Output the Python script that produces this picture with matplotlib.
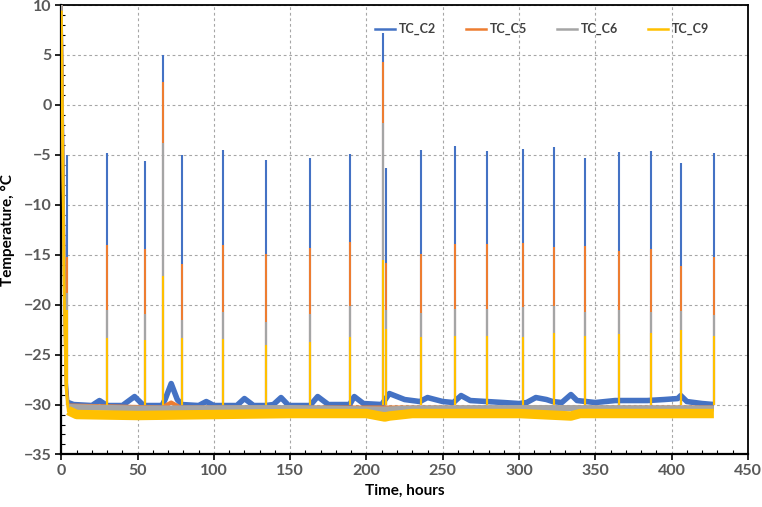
import numpy as np
import matplotlib
matplotlib.use("Agg")
import matplotlib.pyplot as plt
from matplotlib.ticker import MultipleLocator

plt.rcParams['font.family'] = ['Lato', 'DejaVu Sans']

series_names = ["TC_C2", "TC_C5", "TC_C6", "TC_C9"]
colors = ["#4472C4", "#ED7D31", "#A5A5A5", "#FFC000"]

# Defrost spike times (hours) and peak temperatures per sensor
spike_t = [3.9, 29.8, 54.8, 66.6, 79.1, 106.0, 134.1, 162.9, 189.2, 210.8, 212.7,
           235.7, 257.9, 279.0, 302.3, 322.9, 343.2, 365.4, 386.4, 406.1, 427.7]
peak_c2 = [-5.0, -4.8, -5.6, 5.0, -5.0, -4.5, -5.5, -5.3, -4.9, 7.2, -6.3,
           -4.5, -4.1, -4.6, -4.4, -4.2, -5.3, -4.7, -4.6, -5.8, -4.8]
peak_c5 = [-15.2, -14.0, -14.4, 2.3, -15.9, -14.0, -14.9, -14.3, -13.7, 4.3, -15.8,
           -14.9, -13.9, -13.9, -13.8, -14.2, -14.1, -14.6, -14.4, -16.1, -15.2]
peak_c6 = [-18.8, -20.5, -20.9, -3.8, -21.5, -20.7, -21.7, -20.9, -20.1, -1.8, -20.5,
           -20.8, -20.4, -20.4, -20.2, -20.1, -20.7, -20.5, -20.7, -20.6, -21.0]
peak_c9 = [-20.5, -23.3, -23.5, -17.1, -23.3, -23.4, -24.0, -23.7, -23.2, -15.5, -22.4,
           -23.2, -23.1, -23.1, -23.2, -22.8, -23.1, -22.9, -22.8, -22.5, -23.1]

# Initial pull-down at start of test: time, temperature
init_t = [0, 0.8, 1.8, 3.0, 4.5]
init_c2 = [10, 0, -15, -27, -29.8]
init_c5 = [10, -1, -16, -27.5, -30.1]
init_c6 = [10, -2, -17, -28, -30.3]
init_c9 = [9.3, -3, -18, -28.2, -30.6]

# Baseline (between defrosts) readings: time, temperature
base_t_c2 = [4.5, 8, 20, 25, 30, 40, 48, 54, 60, 66, 68, 72, 76, 79, 90, 95, 100,
             106, 115, 120, 126, 134, 139, 144, 149, 163, 168, 175, 189, 192, 198, 210,
             215, 225, 235, 240, 250, 257, 262, 268, 290, 300, 305, 311, 318, 322, 328,
             334, 338, 350, 363, 384, 395, 404, 406, 410, 420, 427.7]
base_v_c2 = [-29.8, -30.0, -30.1, -29.6, -30.1, -30.1, -29.2, -30.1, -30.1,
             -30.1, -29.5, -27.9, -29.5, -30.0, -30.1, -29.7, -30.1, -30.1, -30.1, -29.4,
             -30.1, -30.1, -30.0, -29.3, -30.1, -30.1, -29.2, -30.0, -30.0, -29.2, -29.9,
             -30.0, -28.9, -29.5, -29.7, -29.3, -29.7, -29.8, -29.1, -29.6, -29.8, -29.9,
             -29.8, -29.3, -29.5, -29.7, -29.8, -29.0, -29.6, -29.8, -29.6, -29.6, -29.5,
             -29.4, -29.1, -29.7, -29.9, -30.0]
base_t_c5 = [4.5, 66, 72, 78, 427.7]
base_v_c5 = [-30.1, -30.3, -29.8, -30.3, -30.3]
base_t_c6 = [4.5, 50, 150, 212, 230, 300, 427.7]
base_v_c6 = [-30.25, -30.4, -30.35, -30.5, -30.4, -30.35, -30.4]
base_t_c9 = [4.5, 10, 50, 100, 150, 200, 212, 215, 230, 300, 334, 340, 427.7]
base_v_c9 = [-30.6, -31.0, -31.1, -31.0, -30.9, -30.9, -31.25, -31.15,
             -30.9, -30.9, -31.15, -30.9, -30.9]

x_ticks = [0, 50, 100, 150, 200, 250, 300, 350, 400, 450]
y_ticks = [10, 5, 0, -5, -10, -15, -20, -25, -30, -35]

init_v = [init_c2, init_c5, init_c6, init_c9]
base_t = [base_t_c2, base_t_c5, base_t_c6, base_t_c9]
base_v = [base_v_c2, base_v_c5, base_v_c6, base_v_c9]
peaks = [peak_c2, peak_c5, peak_c6, peak_c9]
band_lw = [4.0, 3.0, 4.3, 6.8]

fig = plt.figure(figsize=(7.62, 5.07), dpi=100)
ax = fig.add_axes([0.0805, 0.1036, 0.901, 0.8865])

for i in range(4):
    ax.plot(init_t, init_v[i], color=colors[i], lw=2.0, zorder=2 + i)
    ax.plot(base_t[i], base_v[i], color=colors[i], lw=band_lw[i], solid_joinstyle='round',
            solid_capstyle='butt', zorder=2 + i, label=series_names[i])
    ax.vlines(spike_t, -30.0, peaks[i], color=colors[i], lw=1.5, zorder=2 + i)

ax.set_xlim(0, 450)
ax.set_ylim(-35, 10)
ax.set_xticks(x_ticks)
ax.set_yticks(y_ticks)
ax.xaxis.set_minor_locator(MultipleLocator(10))
ax.yaxis.set_minor_locator(MultipleLocator(1))
ax.tick_params(which='major', direction='out', length=4, width=1.2, color='black',
               labelsize=11.5, labelcolor='#595959', pad=3)
ax.tick_params(which='minor', direction='in', length=3, width=0.8, color='black')
for lab in ax.get_xticklabels() + ax.get_yticklabels():
    lab.set_fontweight('bold')

ax.grid(True, which='major', color='#a6a6a6', linestyle=(0, (2.5, 2.5)), lw=0.8)
ax.set_axisbelow(True)
for s in ['left', 'bottom']:
    ax.spines[s].set_linewidth(1.6)
for s in ['top', 'right']:
    ax.spines[s].set_linewidth(1.3)

ax.set_xlabel("Time, hours", fontsize=11, fontweight='bold', color='black', labelpad=4)
ax.set_ylabel("Temperature, °C", fontsize=11, fontweight='bold', color='black', labelpad=6)

handles = [plt.Line2D([], [], color=c, lw=1.8) for c in colors]
leg = ax.legend(handles, series_names, loc='upper left', bbox_to_anchor=(0.44, 0.985), ncol=4,
                frameon=False, fontsize=9, handlelength=1.6, handletextpad=0.3,
                columnspacing=2.4)
for t in leg.get_texts():
    t.set_color('#404040')
    t.set_fontweight('bold')

fig.savefig("out.png", dpi=100)
